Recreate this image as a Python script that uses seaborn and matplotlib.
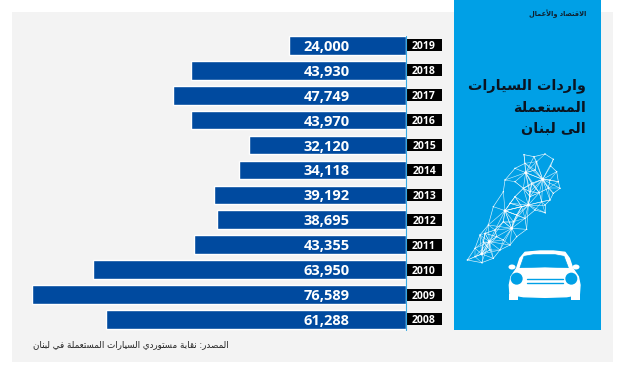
import numpy as np
import pandas as pd
import matplotlib
matplotlib.use("Agg")
import matplotlib.pyplot as plt
from matplotlib.patches import Rectangle, Circle, Ellipse, Polygon
import seaborn as sns

years = ["2019", "2018", "2017", "2016", "2015", "2014", "2013", "2012", "2011", "2010", "2009", "2008"]
imports = [24000, 43930, 47749, 43970, 32120, 34118, 39192, 38695, 43355, 63950, 76589, 61288]
title_lines = ["واردات السيارات", "المستعملة", "الى لبنان"]
source = "المصدر: نقابة مستوردي السيارات المستعملة في لبنان"
logo = "الاقتصاد والأعمال"

# arabic presentation forms, matplotlib does no shaping itself
FORMS = {
    "ا": (0xFE8D, 0xFE8E), "أ": (0xFE83, 0xFE84), "د": (0xFEA9, 0xFEAA), "ر": (0xFEAD, 0xFEAE),
    "و": (0xFEED, 0xFEEE), "ة": (0xFE93, 0xFE94), "ى": (0xFEEF, 0xFEF0),
    "ب": (0xFE8F, 0xFE90, 0xFE91, 0xFE92), "ت": (0xFE95, 0xFE96, 0xFE97, 0xFE98),
    "س": (0xFEB1, 0xFEB2, 0xFEB3, 0xFEB4), "ص": (0xFEB9, 0xFEBA, 0xFEBB, 0xFEBC),
    "ع": (0xFEC9, 0xFECA, 0xFECB, 0xFECC), "ف": (0xFED1, 0xFED2, 0xFED3, 0xFED4),
    "ق": (0xFED5, 0xFED6, 0xFED7, 0xFED8), "ل": (0xFEDD, 0xFEDE, 0xFEDF, 0xFEE0),
    "م": (0xFEE1, 0xFEE2, 0xFEE3, 0xFEE4), "ن": (0xFEE5, 0xFEE6, 0xFEE7, 0xFEE8),
    "ي": (0xFEF1, 0xFEF2, 0xFEF3, 0xFEF4),
}
LAM_ALEF = {"ا": (0xFEFB, 0xFEFC), "أ": (0xFEF7, 0xFEF8)}


def shape(text):
    out = []
    i = 0
    prev_joins = False
    while i < len(text):
        c = text[i]
        nxt = text[i + 1] if i + 1 < len(text) else ""
        if c == "ل" and nxt in LAM_ALEF:
            out.append(chr(LAM_ALEF[nxt][1 if prev_joins else 0]))
            prev_joins = False
            i += 2
            continue
        if c not in FORMS:
            out.append(c)
            prev_joins = False
            i += 1
            continue
        f = FORMS[c]
        if len(f) == 2:
            out.append(chr(f[1 if prev_joins else 0]))
            prev_joins = False
        else:
            next_joins = nxt in FORMS
            if prev_joins and next_joins:
                out.append(chr(f[3]))
            elif prev_joins:
                out.append(chr(f[1]))
            elif next_joins:
                out.append(chr(f[2]))
            else:
                out.append(chr(f[0]))
            prev_joins = next_joins
        i += 1
    return "".join(reversed(out))


sns.set_style("white")
plt.rcParams["font.family"] = ["Open Sans", "DejaVu Sans"]

BLUE = "#00a0e6"
W, H = 624, 374
fig = plt.figure(figsize=(W / 100, H / 100), dpi=100, facecolor="white")

# background layer in pixel coordinates
bg = fig.add_axes([0, 0, 1, 1])
bg.set_xlim(0, W)
bg.set_ylim(H, 0)
bg.axis("off")
bg.add_patch(Rectangle((12, 12), 601, 350, color="#f3f3f3", lw=0))
bg.add_patch(Rectangle((454, 0), 146.5, 329.5, color=BLUE, lw=0))

for k, line in enumerate(title_lines):
    bg.text(586, 86 + 21.5 * k, shape(line), family="DejaVu Sans", fontsize=10.4, fontweight="bold",
            color="#0b1420", ha="right", va="center")
bg.text(586.5, 14, shape(logo), family="DejaVu Sans", fontsize=4.8, fontweight="bold",
        color="#10202e", ha="right", va="center")
bg.text(229, 345, shape(source), family="DejaVu Sans", fontsize=6.3, color="#222222", ha="right", va="center")

# lebanon map as a network, rough trace of the picture
outline = [(192, 14), (222, 20), (255, 12), (280, 28), (272, 48), (290, 65), (295, 95), (300, 115), (280, 130),
           (270, 150), (255, 165), (255, 188), (225, 180), (195, 205), (200, 238), (170, 260), (150, 285),
           (120, 300), (100, 325), (65, 338), (22, 330), (45, 295), (60, 255), (85, 225), (100, 170),
           (130, 125), (135, 90), (165, 55), (195, 40)]
inner = [(225, 60), (190, 115), (210, 125), (238, 128), (215, 100), (170, 195), (130, 215), (105, 240),
         (110, 260), (70, 275), (90, 300), (130, 270), (210, 140), (245, 155), (165, 95), (165, 140),
         (270, 90), (265, 115), (150, 160), (185, 170), (230, 35), (160, 215), (45, 320), (75, 250)]
hubs = [(197, 68), (248, 88), (135, 182), (155, 235), (88, 275), (65, 312), (205, 165)]
nodes = outline + inner + hubs
to_px = lambda p: (460 + p[0] / 3, 150 + p[1] / 3)
for a, b in zip(outline, outline[1:] + outline[:1]):
    bg.plot(*zip(to_px(a), to_px(b)), color="white", lw=0.45, alpha=0.9)
for h in hubs:
    for n in nodes:
        if 0 < np.hypot(h[0] - n[0], h[1] - n[1]) < 75:
            bg.plot(*zip(to_px(h), to_px(n)), color="white", lw=0.4, alpha=0.85)
for n in inner:
    for m in nodes:
        if 0 < np.hypot(n[0] - m[0], n[1] - m[1]) < 38:
            bg.plot(*zip(to_px(n), to_px(m)), color="white", lw=0.35, alpha=0.8)
for n in outline + inner:
    x, y = to_px(n)
    bg.add_patch(Circle((x, y), 0.7, color="white", lw=0))
for n in hubs:
    x, y = to_px(n)
    bg.add_patch(Circle((x, y), 1.4, color="white", lw=0))

# car icon
car = lambda p: (500 + p[0] / 3, 245 + p[1] / 3)
body = [(75, 22), (120, 18), (160, 18), (195, 22), (208, 40), (218, 70), (235, 95), (240, 120), (238, 148),
        (200, 155), (135, 157), (70, 155), (30, 148), (28, 120), (33, 95), (50, 70), (60, 40)]
glass = [(72, 34), (100, 29), (165, 29), (192, 34), (205, 68), (135, 66), (60, 68)]
bg.add_patch(Polygon([car(p) for p in body], fc="white", ec="white", lw=1, joinstyle="round"))
bg.add_patch(Polygon([car(p) for p in glass], fc=BLUE, ec=BLUE, lw=0.5, joinstyle="round"))
for cx in (50, 214):
    bg.add_patch(Circle(car((cx, 101)), 6, color=BLUE, lw=0))
for cx in (36, 228):
    bg.add_patch(Ellipse(car((cx, 66)), 7, 5, color="white", lw=0))
for cx in (28, 213):
    bg.add_patch(Rectangle(car((cx, 146)), 9, 6.5, color="white", lw=0))
for gy in (103, 115):
    bg.plot(*zip(car((80, gy)), car((190, gy))), color=BLUE, lw=1)

# bars
left, right, top, bottom = 31.5, 406, 32.9, 331.9
ax = fig.add_axes([left / W, 1 - bottom / H, (right - left) / W, (bottom - top) / H])
ax.patch.set_alpha(0)
df = pd.DataFrame({"year": years, "imports": imports})
sns.barplot(data=df, x="imports", y="year", order=years, color="#004a9f", saturation=1, width=0.75, ax=ax)
ax.set_xlim(max(imports), 0)
ax.set_ylim(len(years) - 0.5, -0.5)
ax.set_xlabel("")
ax.set_ylabel("")
ax.set_xticks([])
sns.despine(ax=ax, left=True, bottom=True)
ax.axvline(0, ymin=2.4 / 299, ymax=296 / 299, color="#35a9e2", lw=0.8, clip_on=False)
ax.yaxis.tick_right()
ax.tick_params(axis="y", length=0, pad=13)
box_w = 34.5 / (right - left)
for i in range(len(years)):
    ax.add_patch(Rectangle((1 + 1 / (right - left), i - 0.24), box_w, 0.48, fc="black", ec="none",
                           transform=ax.get_yaxis_transform(), clip_on=False, zorder=0))
for lab in ax.get_yticklabels():
    lab.set_color("white")
    lab.set_fontsize(7.5)
    lab.set_fontweight("bold")
    lab.set_ha("center")
for i, v in enumerate(imports):
    ax.text(16200, i, f"{v:,}", color="white", fontsize=10.5, fontweight="bold", ha="center", va="center_baseline")

fig.savefig("out.png", dpi=100)
plt.close(fig)
